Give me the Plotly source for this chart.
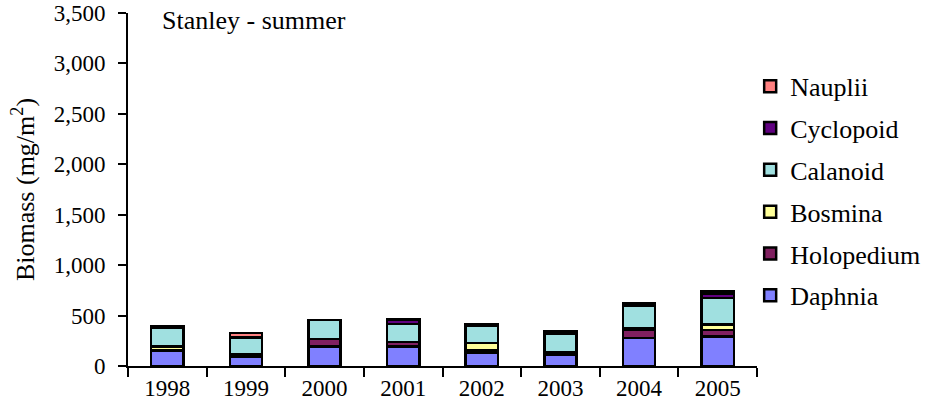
import plotly.graph_objects as go

years = ["1998", "1999", "2000", "2001", "2002", "2003", "2004", "2005"]

daphnia = [155, 95, 195, 195, 135, 115, 280, 295]
holopedium = [0, 15, 75, 45, 25, 25, 75, 60]
bosmina = [40, 5, 0, 0, 70, 0, 15, 55]
calanoid = [180, 165, 185, 175, 165, 180, 225, 265]
cyclopoid = [20, 5, 3, 40, 20, 20, 25, 45]
nauplii = [0, 40, 0, 5, 0, 0, 0, 20]

series = [
    ("Daphnia", daphnia, "#8080FF"),
    ("Holopedium", holopedium, "#802060"),
    ("Bosmina", bosmina, "#FFFF99"),
    ("Calanoid", calanoid, "#A0E0E0"),
    ("Cyclopoid", cyclopoid, "#600080"),
    ("Nauplii", nauplii, "#FF8080"),
]

FONT = "Liberation Serif"

fig = go.Figure()
n = len(series)
for i, (name, vals, color) in enumerate(series):
    fig.add_trace(go.Bar(
        x=years, y=vals, name=name, legendgroup=name,
        legendrank=n - i,  # top of the stack listed first
        marker=dict(color=color, line=dict(color="black", width=2.5)),
    ))

fig.update_layout(
    barmode="stack",
    bargap=0.59,
    width=925, height=419,
    margin=dict(l=128, r=168, t=13, b=53, autoexpand=False),
    plot_bgcolor="white", paper_bgcolor="white",
    font=dict(family=FONT, size=23, color="black"),
    showlegend=True,
    legend=dict(
        traceorder="grouped",
        tracegroupgap=5,
        xref="container", yref="container",
        x=0.811, xanchor="left", y=0.850, yanchor="top",
        maxheight=400,
        font=dict(family=FONT, size=26),
        itemwidth=30,
        bgcolor="rgba(0,0,0,0)",
    ),
    annotations=[dict(
        text="Stanley - summer", x=0.051, y=0.98, xref="paper", yref="paper",
        xanchor="left", yanchor="middle", showarrow=False,
        font=dict(family=FONT, size=26),
    )],
)
fig.update_xaxes(
    showline=True, linecolor="black", linewidth=2,
    ticks="outside", tickson="boundaries", ticklen=9, tickwidth=2, tickcolor="black",
    showgrid=False, tickfont=dict(family=FONT, size=23),
)
fig.update_yaxes(
    range=[0, 3500], dtick=500, tickformat=",",
    showline=True, linecolor="black", linewidth=2,
    ticks="outside", ticklen=8, tickwidth=2, tickcolor="black",
    ticklabelstandoff=8,
    showgrid=False, zeroline=False,
    tickfont=dict(family=FONT, size=23),
    title=dict(text="Biomass (mg/m<sup>2</sup>)", font=dict(family=FONT, size=26), standoff=12),
)

fig.write_html("out.html")
